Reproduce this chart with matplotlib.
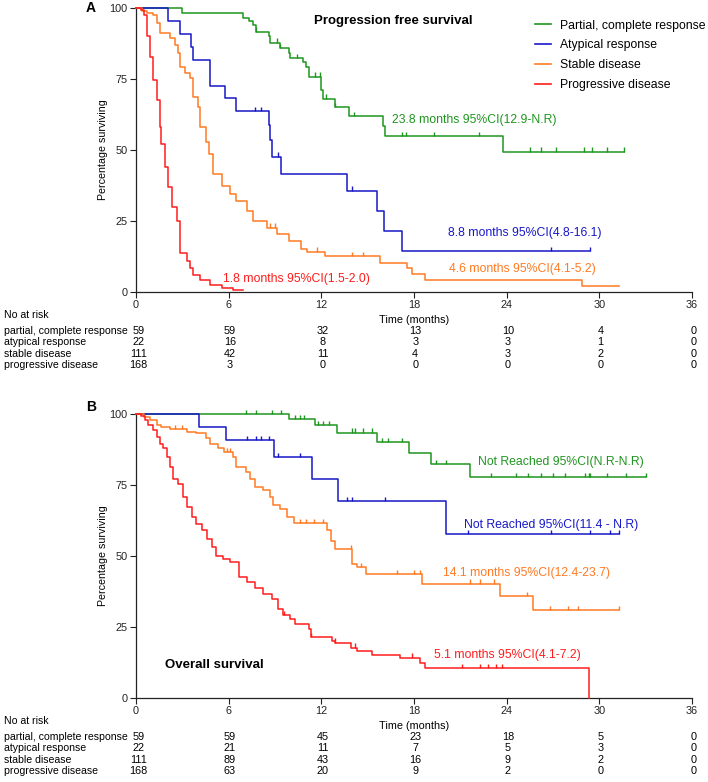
import numpy as np
import matplotlib
matplotlib.use("Agg")
import matplotlib.pyplot as plt
from matplotlib.lines import Line2D
from matplotlib.transforms import blended_transform_factory

plt.rcParams['font.family'] = ['Liberation Sans', 'DejaVu Sans']

# 颜色
c_pcr = '#1f961f'
c_atyp = '#1818c8'
c_sd = '#ff7a22'
c_pd = '#ff1c1c'

group_names = ['Partial, complete response', 'Atypical response', 'Stable disease', 'Progressive disease']
risk_names = ['partial, complete response', 'atypical response', 'stable disease', 'progressive disease']
time_ticks = [0, 6, 12, 18, 24, 30, 36]
pct_ticks = [0, 25, 50, 75, 100]

# ---------- A: progression free survival ----------
pfs_pcr_t = [0, 2.96, 6.9, 7.3, 7.6, 7.8, 8.6, 8.7, 9.3, 9.9, 10.0, 10.8, 11.0, 11.2, 12.0, 12.1, 12.9, 13.8, 16.0, 16.1, 23.75]
pfs_pcr_s = [100, 98.3, 96.6, 95.5, 94.1, 91.7, 90.0, 87.8, 85.8, 84.0, 82.3, 81.1, 79.3, 75.8, 71.3, 68.1, 65.2, 61.9, 58.3, 54.8, 49.4]
pfs_pcr_end = 31.6
pfs_pcr_cens = [7.8, 9.1, 9.3, 10.4, 11.6, 11.9, 12.3, 12.9, 14.1, 17.2, 17.5, 19.3, 22.2, 25.5, 26.2, 27.2, 29.0, 29.5, 30.5, 31.6]

pfs_atyp_t = [0, 2.05, 2.85, 3.56, 3.7, 4.8, 5.77, 6.5, 8.6, 8.7, 8.8, 9.4, 13.65, 15.6, 16.07, 17.25]
pfs_atyp_s = [100, 95.5, 90.9, 86.4, 81.8, 72.7, 68.2, 63.6, 58.7, 53.4, 47.7, 41.6, 35.7, 28.6, 21.5, 14.4]
pfs_atyp_end = 29.4
pfs_atyp_cens = [7.7, 8.1, 9.2, 14.0, 26.9, 29.4]

pfs_sd_t = [0, 0.4, 0.7, 1.1, 1.35, 1.55, 2.2, 2.5, 2.75, 2.85, 3.2, 3.5, 3.7, 4.0, 4.15, 4.5, 4.7, 5.0, 5.55, 6.1,
            6.5, 7.2, 7.6, 8.5, 9.1, 9.9, 10.7, 11.05, 12.25, 15.8, 17.55, 17.9, 18.7, 28.9]
pfs_sd_s = [100, 99.1, 98.2, 97.6, 94.7, 91.1, 89.4, 87.0, 84.0, 79.3, 77.0, 75.2, 68.7, 65.2, 58.1, 52.8, 48.6, 41.6, 37.4, 34.5,
            32.1, 28.6, 25.0, 22.7, 20.3, 17.9, 15.0, 14.2, 12.6, 10.3, 8.5, 6.4, 4.1, 2.0]
pfs_sd_end = 31.3
pfs_sd_cens = [8.7, 9.0, 11.7, 14.0, 14.7]

pfs_pd_t = [0, 0.3, 0.5, 0.7, 0.9, 1.1, 1.35, 1.55, 1.65, 1.9, 2.1, 2.3, 2.65, 2.85, 3.3, 3.5, 3.7, 4.15, 4.8, 5.55, 6.3]
pfs_pd_s = [100, 99.4, 97.6, 90.0, 82.9, 74.6, 67.5, 58.1, 52.2, 43.9, 36.8, 29.8, 25.0, 13.8, 10.9, 8.5, 6.1, 4.4, 2.6, 1.4, 0.8]
pfs_pd_end = 6.95
pfs_pd_cens = []

pfs_risk = [[59, 59, 32, 13, 10, 4, 0],
            [22, 16, 8, 3, 3, 1, 0],
            [111, 42, 11, 4, 3, 2, 0],
            [168, 3, 0, 0, 0, 0, 0]]

# ---------- B: overall survival ----------
os_pcr_t = [0, 9.93, 11.6, 13.0, 15.6, 17.7, 19.1, 21.6]
os_pcr_s = [100, 98.1, 96.1, 93.4, 90.1, 86.3, 82.3, 77.8]
os_pcr_end = 33.0
os_pcr_cens = [7.1, 7.8, 8.8, 9.4, 10.3, 10.6, 10.9, 11.8, 12.1, 12.5, 14.0, 14.2, 14.7, 15.3, 15.9, 16.3, 17.2,
               19.4, 20.1, 23.0, 24.6, 25.4, 26.2, 27.0, 27.8, 29.1, 29.3, 29.4, 30.5, 31.7, 33.0]

os_atyp_t = [0, 4.08, 5.83, 8.96, 11.4, 13.1, 20.1]
os_atyp_s = [100, 95.5, 90.9, 84.8, 77.1, 69.4, 57.8]
os_atyp_end = 31.3
os_atyp_cens = [7.2, 7.8, 8.1, 8.6, 9.2, 10.6, 13.65, 14.0, 16.1, 21.5, 26.9, 29.4, 30.7, 31.3]

os_sd_t = [0, 0.5, 0.9, 1.35, 1.65, 2.2, 3.3, 3.9, 4.5, 4.8, 5.3, 5.7, 6.3, 6.5, 7.1, 7.4, 7.7, 8.25, 8.7, 8.9,
           9.3, 9.8, 10.2, 12.35, 12.6, 12.9, 14.0, 14.3, 14.9, 18.5, 23.6, 25.7]
os_sd_s = [100, 99.1, 97.9, 96.1, 95.5, 94.6, 93.8, 93.2, 91.4, 89.6, 87.9, 86.7, 84.9, 81.4, 79.6, 77.2, 74.3, 73.1, 70.8, 67.8,
           66.6, 63.7, 61.6, 59.0, 55.4, 52.5, 47.2, 46.0, 43.6, 40.3, 36.0, 30.9]
os_sd_end = 31.3
os_sd_cens = [2.5, 3.0, 5.9, 6.1, 10.6, 11.0, 11.5, 12.1, 13.9, 14.6, 16.9, 18.0, 18.4, 21.6, 22.3, 23.2, 25.3,
              26.8, 28.0, 28.6, 31.3]

os_pd_t = [0, 0.3, 0.6, 0.8, 1.1, 1.35, 1.55, 1.77, 2.0, 2.2, 2.4, 2.75, 3.07, 3.3, 3.6, 3.9, 4.25, 4.6, 4.9, 5.2,
           5.66, 6.1, 6.7, 7.2, 7.7, 8.25, 8.8, 9.2, 9.5, 10.0, 10.3, 11.2, 11.3, 12.7, 12.9, 13.9, 14.3, 15.3, 17.1,
           18.4, 18.7, 29.35]
os_pd_s = [100, 99.4, 97.9, 96.1, 94.3, 92.0, 89.6, 87.9, 84.9, 81.4, 77.2, 75.5, 70.8, 67.2, 63.7, 61.3, 59.0, 56.0, 53.1, 50.1,
           48.9, 47.8, 42.5, 40.7, 38.9, 36.6, 34.8, 31.3, 29.2, 27.7, 25.9, 24.2, 21.5, 20.0, 19.5, 17.7, 16.5, 15.3, 14.2,
           12.4, 10.6, 0]
os_pd_end = 29.35
os_pd_cens = [9.6, 11.3, 12.9, 14.2, 17.9, 21.1, 22.3, 22.8, 23.3, 23.7]

os_risk = [[59, 59, 45, 23, 18, 5, 0],
           [22, 21, 11, 7, 5, 3, 0],
           [111, 89, 43, 16, 9, 2, 0],
           [168, 63, 20, 9, 2, 0, 0]]

W, H = 708, 782
fig = plt.figure(figsize=(W / 100, H / 100), dpi=100)


def px(x, y):
    # 像素坐标 -> figure 坐标
    return x / W, 1 - y / H


def km(ax, t, s, end, cens, color):
    tt = list(t) + [end]
    ss = list(s) + [s[-1]]
    ax.step(tt, ss, where='post', color=color, lw=1.1, clip_on=False, zorder=3)
    if cens:
        idx = np.searchsorted(t, cens, side='right') - 1
        lv = np.array(s)[idx]
        ax.vlines(cens, lv, lv + 1.5, color=color, lw=1.0, clip_on=False, zorder=3)


def setup(ax, label_y):
    ax.set_xlim(0, 36)
    ax.set_ylim(0, 100)
    ax.set_xticks(time_ticks)
    ax.set_yticks(pct_ticks)
    for sp in ['top', 'right']:
        ax.spines[sp].set_visible(False)
    for sp in ['left', 'bottom']:
        ax.spines[sp].set_linewidth(0.9)
        ax.spines[sp].set_color('#222222')
    ax.tick_params(direction='out', length=4, width=0.8, labelsize=7.8, pad=2, colors='#222222')
    ax.set_ylabel('Percentage surviving', fontsize=7.7)
    ax.yaxis.set_label_coords(-0.05, 0.5)
    ax.set_xlabel('Time (months)', fontsize=7.8)
    ax.xaxis.set_label_coords(0.5, label_y)


def risk_table(ax, risk, y_head, y_rows):
    tr = blended_transform_factory(ax.transData, fig.transFigure)
    fig.text(*px(4, y_head), 'No at risk', fontsize=7.6, va='center')
    for name, row, y in zip(risk_names, risk, y_rows):
        fig.text(*px(4, y), name, fontsize=7.6, va='center')
        for i, (tm, n) in enumerate(zip(time_ticks, row)):
            xx = tm + 0.15 if i == 0 else tm + 0.08
            ax.text(xx, 1 - y / H, str(n), transform=tr, fontsize=7.8, ha='center', va='center')


# ---- 面板 A ----
axA = fig.add_axes([136 / W, 1 - 292 / H, 556 / W, 284 / H])
km(axA, pfs_pcr_t, pfs_pcr_s, pfs_pcr_end, pfs_pcr_cens, c_pcr)
km(axA, pfs_atyp_t, pfs_atyp_s, pfs_atyp_end, pfs_atyp_cens, c_atyp)
km(axA, pfs_sd_t, pfs_sd_s, pfs_sd_end, pfs_sd_cens, c_sd)
km(axA, pfs_pd_t, pfs_pd_s, pfs_pd_end, pfs_pd_cens, c_pd)
setup(axA, -0.080)

fig.text(*px(86, 8), 'A', fontsize=10, fontweight='bold', va='center')
fig.text(*px(314, 21), 'Progression free survival', fontsize=9.5, fontweight='bold', va='center')
fig.text(*px(392, 120), '23.8 months 95%CI(12.9-N.R)', fontsize=8.8, color=c_pcr, va='center')
fig.text(*px(448, 233), '8.8 months 95%CI(4.8-16.1)', fontsize=8.8, color=c_atyp, va='center')
fig.text(*px(449, 269), '4.6 months 95%CI(4.1-5.2)', fontsize=8.8, color=c_sd, va='center')
fig.text(*px(223, 279), '1.8 months 95%CI(1.5-2.0)', fontsize=8.8, color=c_pd, va='center')

handles = [Line2D([], [], color=c, lw=1.2) for c in [c_pcr, c_atyp, c_sd, c_pd]]
fig.legend(handles, group_names, loc='upper left', bbox_to_anchor=px(535, 19.5), frameon=False,
           fontsize=8.8, handlelength=1.3, handletextpad=0.75, labelspacing=0.64,
           borderpad=0, borderaxespad=0)

risk_table(axA, pfs_risk, 315, [331, 342, 354, 365])

# ---- 面板 B ----
axB = fig.add_axes([136 / W, 1 - 698 / H, 556 / W, 284 / H])
km(axB, os_pcr_t, os_pcr_s, os_pcr_end, os_pcr_cens, c_pcr)
km(axB, os_atyp_t, os_atyp_s, os_atyp_end, os_atyp_cens, c_atyp)
km(axB, os_sd_t, os_sd_s, os_sd_end, os_sd_cens, c_sd)
km(axB, os_pd_t, os_pd_s, os_pd_end, os_pd_cens, c_pd)
setup(axB, -0.080)

fig.text(*px(86, 407), 'B', fontsize=10, fontweight='bold', va='center')
fig.text(*px(165, 665), 'Overall survival', fontsize=9.5, fontweight='bold', va='center')
fig.text(*px(478, 462), 'Not Reached 95%CI(N.R-N.R)', fontsize=8.8, color=c_pcr, va='center')
fig.text(*px(464, 525), 'Not Reached 95%CI(11.4 - N.R)', fontsize=8.8, color=c_atyp, va='center')
fig.text(*px(443, 573), '14.1 months 95%CI(12.4-23.7)', fontsize=8.8, color=c_sd, va='center')
fig.text(*px(434, 655), '5.1 months 95%CI(4.1-7.2)', fontsize=8.8, color=c_pd, va='center')

risk_table(axB, os_risk, 721, [737, 748, 760, 771])

fig.savefig('out.png', dpi=100)
